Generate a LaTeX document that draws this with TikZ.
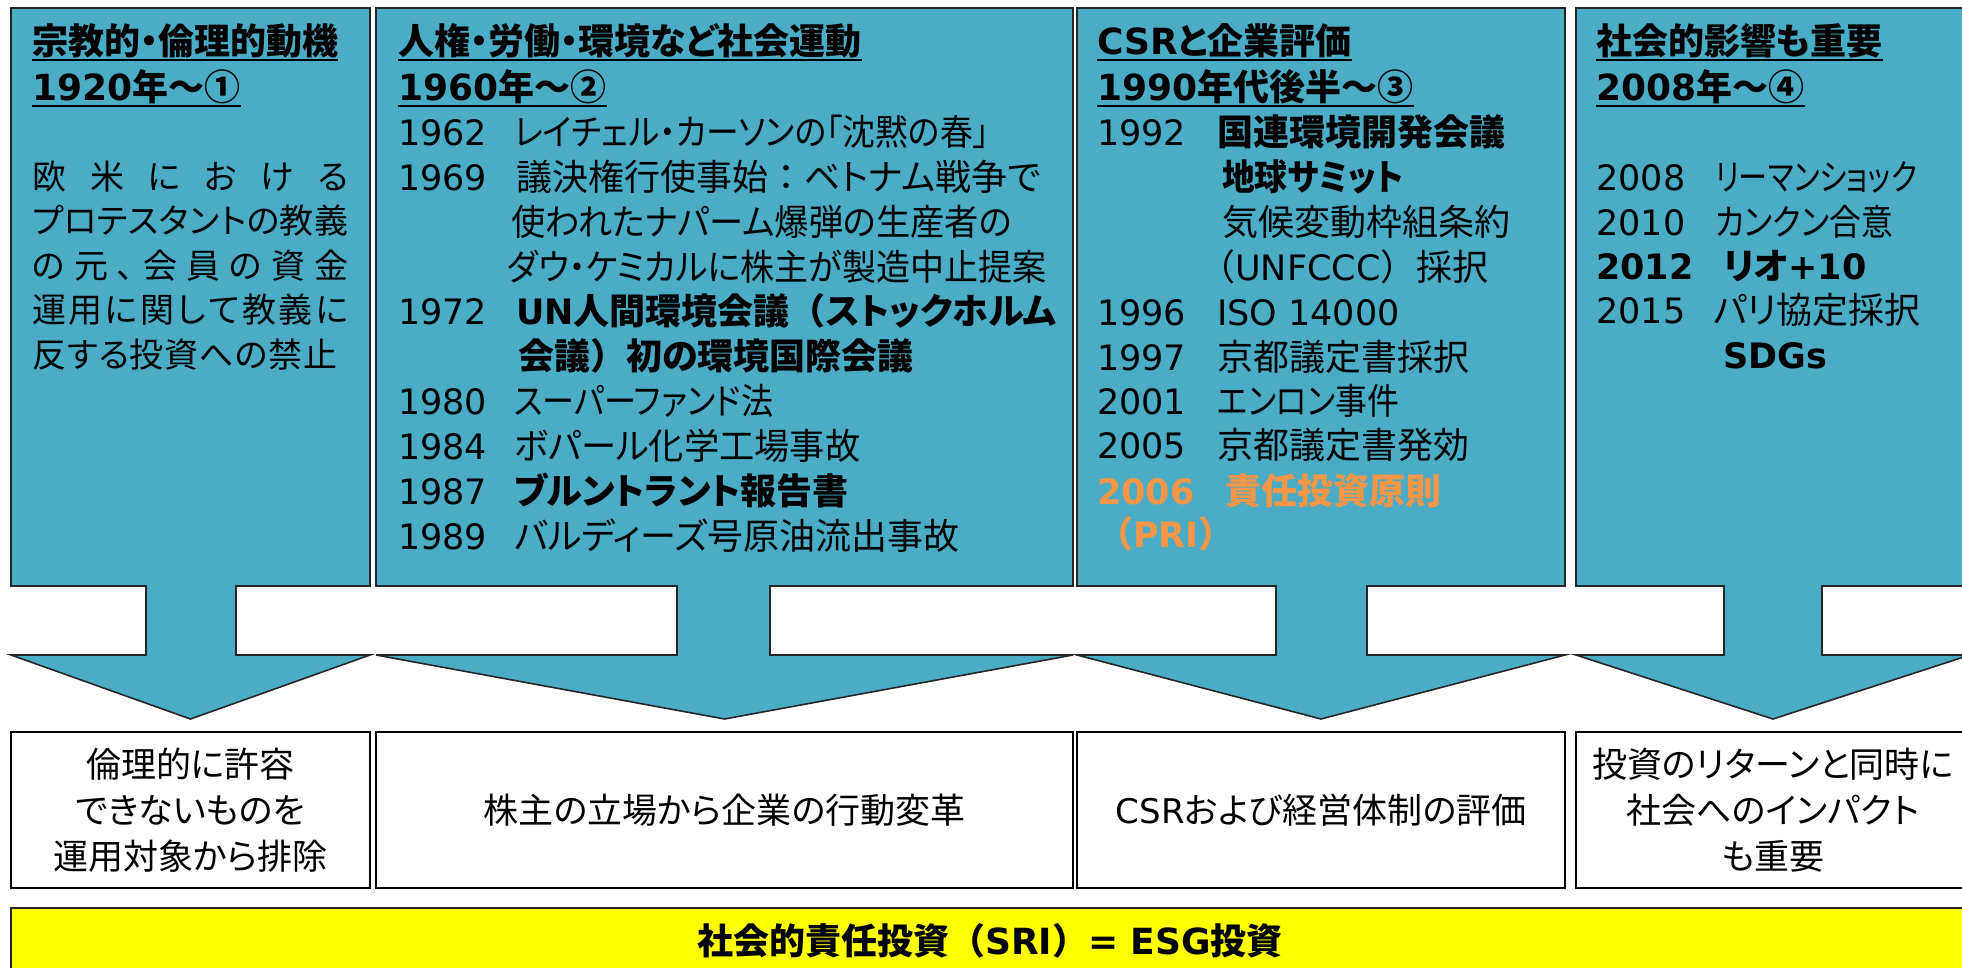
\documentclass[tikz,border=0pt]{standalone}
\usepackage{graphicx}
\usepackage{fontspec}
\setmainfont{Noto Sans CJK JP}[RawFeature=+palt]
\newfontfamily\jpm{Noto Sans CJK JP}
\newfontfamily\latn{DejaVu Sans}
\newcommand\yr[1]{{\latn\fontsize{35}{40}\selectfont #1}}
\newcommand\lw[1]{{\latn\fontsize{35}{40}\selectfont #1}}
\newcommand\fitw[2]{\resizebox{#1}{\height}{#2}}
\definecolor{panelblue}{HTML}{4BACC6}
\definecolor{prio}{HTML}{F79646}
\definecolor{sriyellow}{HTML}{FFFF00}
\begin{document}
\begin{tikzpicture}[x=1pt,y=-1pt,
  panel/.style={fill=panelblue, draw=black!85, line width=1.6pt, line join=miter},
  resbox/.style={draw=black, line width=2.4pt, fill=white, align=center, inner sep=0pt,
     minimum height=156pt, font=\fontsize{35}{46}\selectfont},
  ttl/.style={anchor=base west, inner sep=0pt, font=\bfseries\fontsize{36}{40}\selectfont},
  txt/.style={anchor=base west, inner sep=0pt, font=\fontsize{36}{40}\selectfont},
  txtb/.style={txt, font=\bfseries\fontsize{36}{40}\selectfont},
  bodyone/.style={txt, font=\fontsize{34}{40}\selectfont},
  ul/.style={line width=2pt, black},
  sri/.style={draw=black!85, line width=1.6pt, fill=sriyellow, inner sep=0pt,
     font=\bfseries\fontsize{36}{40}\selectfont}]
\useasboundingbox (0,0) rectangle (1962,967);
\clip (0,0) rectangle (1962,967);

% ---- down arrow callout panels
\draw[panel] (11,8) -- (370,8) -- (370,586) -- (236,586) -- (236,655) -- (370,655)
  -- (190.5,719) -- (11,655) -- (146,655) -- (146,586) -- (11,586) -- cycle;
\draw[panel] (376,8) -- (1073,8) -- (1073,586) -- (770,586) -- (770,655) -- (1073,655)
  -- (724.5,719) -- (376,655) -- (677,655) -- (677,586) -- (376,586) -- cycle;
\draw[panel] (1077,8) -- (1565,8) -- (1565,586) -- (1367,586) -- (1367,655) -- (1565,655)
  -- (1321,719) -- (1077,655) -- (1276,655) -- (1276,586) -- (1077,586) -- cycle;
\draw[panel] (1576,8) -- (1970,8) -- (1970,586) -- (1822,586) -- (1822,655) -- (1970,655)
  -- (1773,719) -- (1576,655) -- (1724,655) -- (1724,586) -- (1576,586) -- cycle;

% ---- panel 1
\node[ttl] (h1a) at (32,54) {宗教的・倫理的動機};
\node[ttl] (h1b) at (32,100) {{\latn 1920}年～①};
\draw[ul] ([yshift=-6pt]h1a.base west) -- ([yshift=-6pt]h1a.base east);
\draw[ul] ([yshift=-6pt]h1b.base west) -- ([yshift=-6pt]h1b.base east);
\node[bodyone] (b1a) at (32,189) {\hbox to 316pt{欧\hfill 米\hfill に\hfill お\hfill け\hfill る}};
\node[bodyone] (b1b) at (32,233) {\hbox to 316pt{プ\hfill ロ\hfill テ\hfill ス\hfill タ\hfill ン\hfill ト\hfill の\hfill 教\hfill 義}};
\node[bodyone] (b1c) at (32,278) {\hbox to 316pt{の\hfill 元\hfill 、\hfill 会\hfill 員\hfill の\hfill 資\hfill 金}};
\node[bodyone] (b1d) at (32,322) {\hbox to 316pt{運\hfill 用\hfill に\hfill 関\hfill し\hfill て\hfill 教\hfill 義\hfill に}};
\node[bodyone] (b1e) at (32,367) {\hbox to 305pt{反\hfill す\hfill る\hfill 投\hfill 資\hfill へ\hfill の\hfill 禁\hfill 止}};

% ---- panel 2
\node[ttl] (h2a) at (398,54) {人権・労働・環境など社会運動};
\node[ttl] (h2b) at (398,100) {{\latn 1960}年～②};
\draw[ul] ([yshift=-6pt]h2a.base west) -- ([yshift=-6pt]h2a.base east);
\draw[ul] ([yshift=-6pt]h2b.base west) -- ([yshift=-6pt]h2b.base east);
\node[txt] (y62) at (398,145) {\yr{1962}};
\node[txt] (e62) at (514,145) {\fitw{475pt}{レイチェル・カーソンの「沈黙の春」}};
\node[txt] (y69) at (398,190) {\yr{1969}};
\node[txt] (e69a) at (516,190) {議決権行使事始{\jpm ：}ベトナム戦争で};
\node[txt] (e69b) at (511,235) {\fitw{501pt}{使われたナパーム爆弾の生産者の}};
\node[txt] (e69c) at (507,280) {\fitw{539pt}{ダウ・ケミカルに株主が製造中止提案}};
\node[txt] (y72) at (398,324) {\yr{1972}};
\node[txtb] (e72a) at (516,324) {\lw{UN}人間環境会議{\jpm （}ストックホルム};
\node[txtb] (e72b) at (518,369) {会議{\jpm ）}初の環境国際会議};
\node[txt] (y80) at (398,414) {\yr{1980}};
\node[txt] (e80) at (514,414) {\fitw{259pt}{スーパーファンド法}};
\node[txt] (y84) at (398,459) {\yr{1984}};
\node[txt] (e84) at (514,459) {\fitw{346pt}{ボパール化学工場事故}};
\node[txt] (y87) at (398,504) {\yr{1987}};
\node[txtb] (e87) at (514,504) {ブルントラント報告書};
\node[txt] (y89) at (398,549) {\yr{1989}};
\node[txt] (e89) at (514,549) {バルディーズ号原油流出事故};

% ---- panel 3
\node[ttl] (h3a) at (1097,54) {{\latn CSR}と企業評価};
\node[ttl] (h3b) at (1097,100) {{\latn 1990}年代後半～③};
\draw[ul] ([yshift=-6pt]h3a.base west) -- ([yshift=-6pt]h3a.base east);
\draw[ul] ([yshift=-6pt]h3b.base west) -- ([yshift=-6pt]h3b.base east);
\node[txt] (y92) at (1097,145) {\yr{1992}};
\node[txtb] (e92a) at (1217,145) {国連環境開発会議};
\node[txtb] (e92b) at (1222,190) {\fitw{181pt}{地球サミット}};
\node[txt] (e92c) at (1222,235) {気候変動枠組条約};
\node[txt] (e92d) at (1199,280) {{\jpm （}\lw{UNFCCC}{\jpm ）}採択};
\node[txt] (y96) at (1097,325) {\yr{1996}};
\node[txt] (e96) at (1217,325) {\lw{ISO 14000}};
\node[txt] (y97) at (1097,370) {\yr{1997}};
\node[txt] (e97) at (1217,370) {京都議定書採択};
\node[txt] (y01) at (1097,414) {\yr{2001}};
\node[txt] (e01) at (1217,414) {\fitw{182pt}{エンロン事件}};
\node[txt] (y05) at (1097,458) {\yr{2005}};
\node[txt] (e05) at (1217,458) {京都議定書発効};
\node[txtb, text=prio] (y06) at (1097,504) {\yr{2006}};
\node[txtb, text=prio] (e06a) at (1225,504) {責任投資原則};
\node[txtb, text=prio] (e06b) at (1097,547) {{\jpm （}\lw{PRI}{\jpm ）}};

% ---- panel 4
\node[ttl] (h4a) at (1596,54) {社会的影響も重要};
\node[ttl] (h4b) at (1596,100) {{\latn 2008}年～④};
\draw[ul] ([yshift=-6pt]h4a.base west) -- ([yshift=-6pt]h4a.base east);
\draw[ul] ([yshift=-6pt]h4b.base west) -- ([yshift=-6pt]h4b.base east);
\node[txt] (y08) at (1596,190) {\yr{2008}};
\node[txt] (e08) at (1715,190) {\fitw{202pt}{リーマンショック}};
\node[txt] (y10) at (1596,235) {\yr{2010}};
\node[txt] (e10) at (1715,235) {\fitw{178pt}{カンクン合意}};
\node[txtb] (y12) at (1596,279) {\yr{2012}};
\node[txtb] (e12) at (1723,279) {リオ\lw{+10}};
\node[txt] (y15) at (1596,323) {\yr{2015}};
\node[txt] (e15) at (1713,323) {パリ協定採択};
\node[txtb] (e15b) at (1723,368) {\lw{SDGs}};

% ---- result boxes
\node[resbox, minimum width=359pt] (r1) at (190.5,810) {倫理的に許容\\できないものを\\運用対象から排除};
\node[resbox, minimum width=697pt] (r2) at (724.5,810) {株主の立場から企業の行動変革};
\node[resbox, minimum width=488pt] (r3) at (1321,810) {{\latn\fontsize{34}{46}\selectfont CSR}および経営体制の評価};
\node[resbox, minimum width=394pt] (r4) at (1773,810) {投資のリターンと同時に\\社会へのインパクト\\も重要};

% ---- SRI bar
\node[sri, minimum width=1958pt, minimum height=66pt] (sribar) at (990,941)
  {社会的責任投資{\jpm （}{\latn SRI}{\jpm ）}{\latn = ESG}投資};
\end{tikzpicture}
\end{document}
